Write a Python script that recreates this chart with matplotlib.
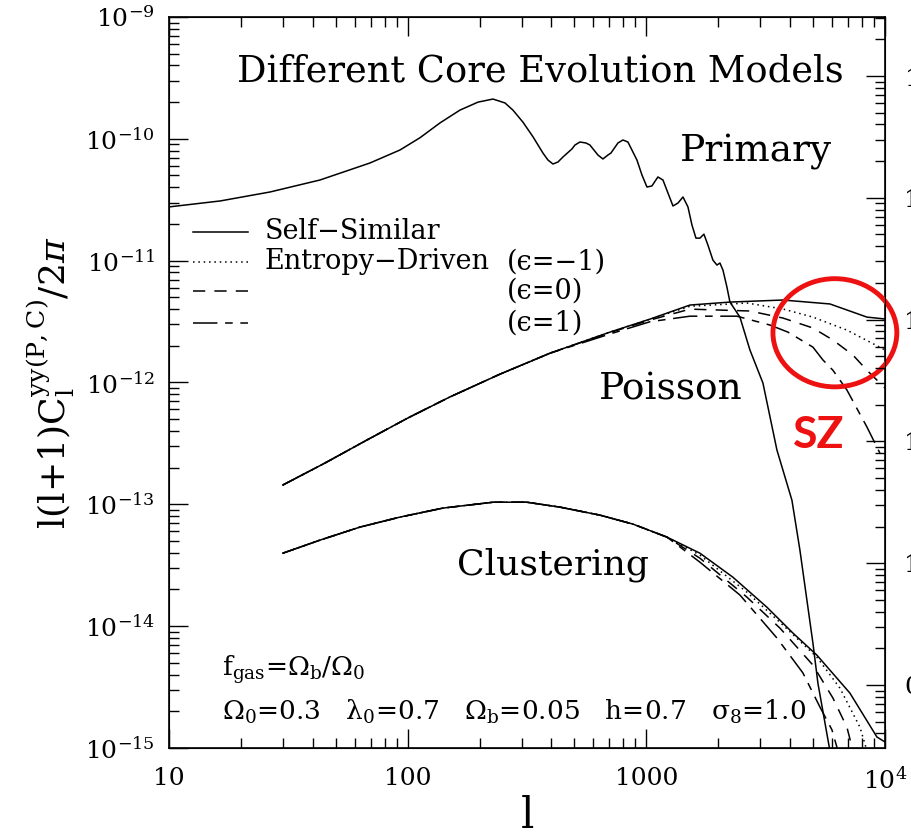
import numpy as np
import matplotlib
matplotlib.use('Agg')
import matplotlib.pyplot as plt
from matplotlib import ticker
from matplotlib.patches import Ellipse

plt.rcParams['font.family'] = ['DejaVu Serif']
plt.rcParams['mathtext.fontset'] = 'dejavuserif'

# ---- primary CMB spectrum
l_prim = [10, 16.4, 26.5, 42.9, 69.5, 92.8, 112.6, 136.6, 165.6, 197.1, 227.7, 255.6,
          276.1, 304.1, 334.9, 368.8, 387.0, 406.2, 426.3, 447.3, 487.8, 502.2, 527.0,
          558.5, 580.3, 626.9, 657.9, 690.5, 710.7, 760.3, 798.0, 837.2, 913.2, 958.5,
          1006, 1055, 1118, 1174, 1232, 1293, 1357, 1424, 1494, 1553, 1614, 1677, 1743,
          1812, 1901, 1976, 2034, 2094, 2176, 2240, 2467, 2716, 3080, 3525, 4074, 4400,
          4989, 5235, 5876]
c_prim = [2.76e-11, 3.09e-11, 3.66e-11, 4.59e-11, 6.33e-11, 8.09e-11, 1.02e-10, 1.35e-10,
          1.72e-10, 2.00e-10, 2.12e-10, 1.97e-10, 1.72e-10, 1.37e-10, 1.04e-10, 7.64e-11,
          6.70e-11, 6.21e-11, 6.45e-11, 7.09e-11, 8.25e-11, 8.89e-11, 9.41e-11, 9.24e-11,
          8.89e-11, 7.36e-11, 6.83e-11, 7.36e-11, 7.64e-11, 9.24e-11, 9.78e-11, 9.41e-11,
          6.70e-11, 5.05e-11, 4.02e-11, 4.10e-11, 4.86e-11, 4.59e-11, 3.59e-11, 2.81e-11,
          2.97e-11, 3.33e-11, 2.76e-11, 1.96e-11, 1.53e-11, 1.53e-11, 1.65e-11, 1.34e-11,
          1.01e-11, 9.20e-12, 9.56e-12, 8.37e-12, 6.07e-12, 4.57e-12, 3.44e-12, 1.85e-12,
          9.89e-13, 2.79e-13, 1.08e-13, 4.21e-14, 7.25e-15, 3.40e-15, 9.5e-16]

# ---- Poisson SZ term (shared low-l part, then one tail per core model)
l_pois = [30, 45.0, 67.5, 100, 150, 243.6, 395]
c_pois = [1.44e-13, 2.18e-13, 3.37e-13, 5.10e-13, 7.59e-13, 1.17e-12, 1.74e-12]
l_pois_ss = [704, 1035, 1523, 2240, 3735, 5877, 8400, 10000]
c_pois_ss = [2.59e-12, 3.31e-12, 4.32e-12, 4.57e-12, 4.75e-12, 4.41e-12, 3.44e-12, 3.32e-12]
l_pois_m1 = [704, 1035, 1523, 2639, 3735, 4989, 6925, 10000]
c_pois_m1 = [2.59e-12, 3.30e-12, 4.22e-12, 4.49e-12, 4.01e-12, 3.44e-12, 2.69e-12, 1.85e-12]
l_pois_0 = [704, 1035, 1523, 2716, 3735, 4989, 6050, 7338, 8400, 10000]
c_pois_0 = [2.57e-12, 3.25e-12, 4.00e-12, 3.86e-12, 3.38e-12, 2.80e-12, 2.23e-12, 1.68e-12,
            1.26e-12, 9.0e-13]
l_pois_p1 = [704, 1035, 1523, 2396, 3295, 3920, 4989, 5494, 6050, 6925, 8400, 9522]
c_pois_p1 = [2.50e-12, 3.15e-12, 3.50e-12, 3.50e-12, 2.96e-12, 2.59e-12, 1.95e-12, 1.53e-12,
             1.26e-12, 8.67e-13, 4.31e-13, 2.63e-13]

# ---- clustering SZ term
l_clus = [30, 42.9, 63.1, 92.8, 140.6, 227.7, 316, 434.5, 639, 878.6, 1220]
c_clus = [3.97e-14, 5.08e-14, 6.50e-14, 7.85e-14, 9.31e-14, 1.04e-13, 1.04e-13, 9.48e-14,
          8.15e-14, 6.88e-14, 5.38e-14]
l_clus_ss = [1677, 2306, 3201, 4114, 5184, 7129, 9250, 10000]
c_clus_ss = [3.97e-14, 2.52e-14, 1.43e-14, 8.77e-15, 5.78e-15, 2.82e-15, 1.23e-15, 1.12e-15]
l_clus_m1 = [1677, 2639, 3735, 5184, 6473, 7852, 8400]
c_clus_m1 = [3.83e-14, 1.90e-14, 1.02e-14, 5.56e-15, 3.10e-15, 1.48e-15, 9.5e-16]
l_clus_0 = [1677, 2639, 3628, 4989, 6050, 6925, 7338]
c_clus_0 = [3.61e-14, 1.73e-14, 9.64e-15, 4.79e-15, 2.57e-15, 1.48e-15, 9.5e-16]
l_clus_p1 = [1677, 2467, 3525, 4529, 5337, 5993, 6348]
c_clus_p1 = [3.35e-14, 1.80e-14, 7.99e-15, 4.13e-15, 2.17e-15, 1.41e-15, 9.5e-16]

models = ['Self\u2212Similar', 'Entropy\u2212Driven', '', '']
eps_labels = ['', '(\u03f5=\u22121)', '(\u03f5=0)', '(\u03f5=1)']
styles = [dict(ls='-'), dict(ls=(0, (1, 2.5))), dict(ls=(0, (8, 6))),
          dict(ls=(0, (16, 5, 5, 5)))]

pois_tails = [(l_pois_ss, c_pois_ss), (l_pois_m1, c_pois_m1),
              (l_pois_0, c_pois_0), (l_pois_p1, c_pois_p1)]
clus_tails = [(l_clus_ss, c_clus_ss), (l_clus_m1, c_clus_m1),
              (l_clus_0, c_clus_0), (l_clus_p1, c_clus_p1)]

fig = plt.figure(figsize=(9.12, 8.36), dpi=100)
ax = fig.add_axes([0.1853, 0.1053, 0.7851, 0.8744])

ax.plot(l_prim, c_prim, color='black', lw=1.1)
for (lt, ct), st in zip(pois_tails, styles):
    ax.plot(l_pois + lt, c_pois + ct, color='black', lw=1.1, **st)
for (lt, ct), st in zip(clus_tails, styles):
    ax.plot(l_clus + lt, c_clus + ct, color='black', lw=1.1, **st)

ax.set_xscale('log')
ax.set_yscale('log')
ax.set_xlim(10, 1e4)
ax.set_ylim(1e-15, 1e-9)

ax.xaxis.set_major_locator(ticker.FixedLocator([10, 100, 1000, 1e4]))
ax.xaxis.set_major_formatter(ticker.FixedFormatter(['10', '100', '1000', '$10^4$']))
ax.xaxis.set_minor_locator(ticker.LogLocator(subs=np.arange(2, 10)))
ax.xaxis.set_minor_formatter(ticker.NullFormatter())
ax.yaxis.set_major_locator(ticker.LogLocator(numticks=10))
ax.yaxis.set_minor_locator(ticker.LogLocator(subs=np.arange(2, 10), numticks=20))
ax.yaxis.set_minor_formatter(ticker.NullFormatter())

ax.tick_params(which='both', direction='in', top=True, right=True, width=1)
ax.tick_params(which='major', length=14, labelsize=18)
ax.tick_params(which='minor', length=7)
ax.tick_params(axis='x', which='major', pad=14)
ax.tick_params(axis='y', which='major', pad=10)
for sp in ax.spines.values():
    sp.set_linewidth(1.2)

# neighbouring panel's axis, cut off at the right edge
ax2 = ax.twinx()
ax2.set_yscale('log')
ax2.set_ylim(10 ** -1.517, 10 ** 4.484)
ax2.yaxis.set_major_locator(ticker.FixedLocator([1e4, 1e3, 100, 10, 1, 0.1]))
ax2.yaxis.set_major_formatter(ticker.FixedFormatter(['$10^4$', '1000', '100', '10', '1', '0.1']))
ax2.yaxis.set_minor_locator(ticker.LogLocator(subs=np.arange(2, 10), numticks=20))
ax2.yaxis.set_minor_formatter(ticker.NullFormatter())
ax2.tick_params(which='both', direction='in', width=1)
ax2.tick_params(which='major', length=14, labelsize=18, pad=14)
ax2.tick_params(which='minor', length=7)

ax.set_xlabel('l', fontsize=30, labelpad=1)
ax.set_ylabel('l(l+1)C$_{\\rm l}^{\\rm yy(P,C)}$/2$\\pi$', fontsize=26, labelpad=6)

ax.text(0.518, 0.925, 'Different Core Evolution Models', transform=ax.transAxes,
        fontsize=26.5, ha='center', va='center')
ax.text(0.820, 0.815, 'Primary', transform=ax.transAxes, fontsize=27, ha='center', va='center')
ax.text(0.701, 0.490, 'Poisson', transform=ax.transAxes, fontsize=27, ha='center', va='center')
ax.text(0.536, 0.250, 'Clustering', transform=ax.transAxes, fontsize=26, ha='center', va='center')

# legend keys
key_y = [0.706, 0.665, 0.625, 0.581]
for name, eps, st, y in zip(models, eps_labels, styles, key_y):
    ax.plot([0.0335, 0.110], [y, y], transform=ax.transAxes, color='black', lw=1.1, **st)
    ax.text(0.134, y, name, transform=ax.transAxes, fontsize=19.5, ha='left', va='center')
    ax.text(0.472, y, eps, transform=ax.transAxes, fontsize=19.5, ha='left', va='center')

ax.text(0.074, 0.107, 'f$_{\\rm gas}$=\u03a9$_{\\rm b}$/\u03a9$_0$', transform=ax.transAxes,
        fontsize=19, ha='left', va='center')
ax.text(0.074, 0.049,
        '\u03a9$_0$=0.3   \u03bb$_0$=0.7   \u03a9$_{\\rm b}$=0.05   h=0.7   \u03c3$_8$=1.0',
        transform=ax.transAxes, fontsize=19, ha='left', va='center')

# highlight of the SZ tail
ax.add_patch(Ellipse((0.930, 0.568), 0.173, 0.148, transform=ax.transAxes,
                     fill=False, edgecolor='#ee1111', lw=3.5, clip_on=False, zorder=5))
ax.text(0.908, 0.428, 'SZ', transform=ax.transAxes, color='#ee1111', fontsize=32,
        fontweight='bold', family='Lato', ha='center', va='center')

fig.savefig('out.png', dpi=100)
